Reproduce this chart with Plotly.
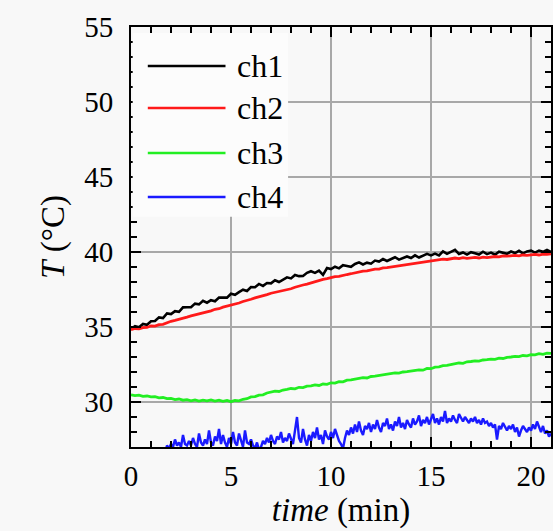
import numpy as np
import plotly.graph_objects as go

# sampling grids (minutes)
time_a = np.round(np.arange(0, 21.0001, 0.2), 2)
time_b = np.round(np.arange(0, 21.0001, 0.1), 2)

series_names = ["ch1", "ch2", "ch3", "ch4"]
series_colors = ["#000000", "#ff1a1a", "#22ee22", "#1a1aff"]

ch1 = [34.85, 35.05, 34.98, 35.20, 35.15, 35.38, 35.40, 35.64, 35.60, 35.90,
       35.86, 36.06, 36.01, 36.31, 36.32, 36.32, 36.56, 36.51, 36.75, 36.62,
       36.79, 36.72, 36.97, 36.97, 36.96, 37.22, 37.15, 37.33, 37.49, 37.40,
       37.66, 37.65, 37.87, 37.74, 37.93, 37.91, 38.12, 38.00, 38.18, 38.31,
       38.24, 38.47, 38.39, 38.40, 38.61, 38.72, 38.61, 38.76, 38.48, 38.93,
       38.86, 39.02, 38.91, 39.12, 39.07, 39.01, 39.20, 39.31, 39.17, 39.29,
       39.22, 39.43, 39.36, 39.53, 39.40, 39.55, 39.65, 39.49, 39.61, 39.70,
       39.60, 39.78, 39.63, 39.78, 39.88, 39.77, 39.89, 39.77, 40.04, 39.88,
       40.03, 40.14, 39.87, 39.97, 39.83, 39.99, 39.92, 39.83, 40.02, 39.86,
       39.96, 39.82, 40.02, 39.96, 39.88, 40.03, 39.93, 40.08, 39.91, 40.04,
       40.09, 39.96, 40.09, 40.01, 40.14, 40.01]

ch2 = [34.82, 34.90, 34.88, 34.96, 34.97, 35.08, 35.06, 35.16, 35.18, 35.30,
       35.38, 35.44, 35.50, 35.58, 35.66, 35.74, 35.80, 35.86, 35.94, 36.02,
       36.08, 36.18, 36.22, 36.32, 36.38, 36.45, 36.54, 36.60, 36.70, 36.76,
       36.85, 36.94, 37.00, 37.10, 37.16, 37.25, 37.30, 37.38, 37.42, 37.50,
       37.55, 37.65, 37.70, 37.80, 37.86, 37.95, 38.04, 38.08, 38.18, 38.22,
       38.30, 38.36, 38.38, 38.46, 38.50, 38.55, 38.62, 38.64, 38.72, 38.74,
       38.80, 38.86, 38.86, 38.94, 38.96, 39.00, 39.06, 39.08, 39.14, 39.16,
       39.20, 39.26, 39.28, 39.34, 39.36, 39.40, 39.44, 39.46, 39.52, 39.50,
       39.56, 39.60, 39.56, 39.62, 39.58, 39.60, 39.64, 39.60, 39.66, 39.62,
       39.66, 39.70, 39.67, 39.74, 39.72, 39.76, 39.78, 39.74, 39.80, 39.78,
       39.82, 39.84, 39.80, 39.86, 39.84, 39.88]

ch3 = [30.48, 30.42, 30.46, 30.38, 30.40, 30.34, 30.36, 30.28, 30.30, 30.22,
       30.24, 30.16, 30.20, 30.12, 30.16, 30.08, 30.14, 30.06, 30.12, 30.08,
       30.14, 30.06, 30.12, 30.04, 30.10, 30.02, 30.10, 30.08, 30.18, 30.22,
       30.34, 30.36, 30.46, 30.48, 30.60, 30.64, 30.72, 30.70, 30.80, 30.84,
       30.90, 30.88, 30.98, 30.96, 31.06, 31.08, 31.14, 31.10, 31.20, 31.18,
       31.28, 31.26, 31.36, 31.34, 31.46, 31.48, 31.52, 31.54, 31.62, 31.60,
       31.70, 31.72, 31.76, 31.80, 31.86, 31.88, 31.94, 31.92, 32.00, 32.02,
       32.06, 32.08, 32.14, 32.12, 32.24, 32.22, 32.32, 32.34, 32.42, 32.44,
       32.50, 32.52, 32.60, 32.58, 32.68, 32.70, 32.74, 32.72, 32.80, 32.82,
       32.86, 32.84, 32.92, 32.90, 32.98, 33.00, 33.04, 33.02, 33.10, 33.08,
       33.16, 33.14, 33.22, 33.18, 33.26, 33.24]

ch4 = [26.6, 26.4, 26.7, 26.5, 26.8, 26.3, 26.6, 26.7, 26.4, 26.6,
       26.5, 26.8, 26.6, 26.9, 26.5, 26.7, 26.8, 26.6, 27.1, 26.9,
       27.2, 27.0, 27.5, 27.1, 27.3, 27.0, 27.8, 27.2, 27.1, 27.4,
       27.1, 27.6, 27.2, 27.0, 27.9, 27.3, 27.1, 27.5, 27.2, 28.1,
       27.3, 27.1, 27.7, 27.4, 28.2, 27.2, 27.8, 27.3, 27.0, 27.6,
       27.2, 28.0, 27.3, 27.1, 27.9, 27.4, 27.0, 28.1, 27.3, 27.2,
       27.5, 27.1, 26.9, 27.3, 26.8, 27.0, 27.4, 27.2, 27.6, 27.3,
       27.8, 27.4, 27.2, 27.7, 27.5, 28.0, 27.3, 27.6, 27.4, 27.9,
       27.5, 27.2, 28.1, 29.0, 27.6, 27.3, 28.2, 27.5, 27.1, 27.8,
       27.4, 28.0, 27.6, 28.3, 27.5, 27.8, 27.2, 28.1, 27.7, 27.5,
       28.0, 27.6, 28.2, 27.8, 27.4, 27.2, 26.9, 27.6, 28.1, 27.8,
       28.3, 27.9, 28.5, 28.0, 28.7, 28.1, 27.8, 28.4, 28.2, 28.6,
       28.0, 28.5, 28.2, 28.8, 28.3, 28.0, 28.6, 28.4, 28.9, 28.2,
       28.5, 28.1, 28.7, 28.4, 29.0, 28.3, 28.6, 28.2, 28.8, 28.5,
       28.3, 28.9, 28.5, 28.7, 29.1, 28.4, 28.8, 28.6, 29.0, 28.5,
       28.8, 29.2, 28.6, 28.9, 28.5, 29.0, 28.7, 29.4, 28.6, 28.9,
       28.7, 29.1, 28.8, 28.6, 29.2, 28.9, 28.7, 29.0, 28.8, 28.6,
       28.9, 28.7, 29.0, 28.6, 28.8, 28.5, 28.9, 28.6, 28.7, 28.4,
       28.6, 28.3, 28.5, 27.5, 28.4, 28.2, 28.6, 28.3, 28.1, 28.4,
       28.2, 28.5, 28.0, 28.3, 27.7, 28.1, 28.4, 28.2, 28.0, 28.3,
       28.1, 28.5, 28.2, 28.7, 28.3, 28.0, 28.4, 27.9, 28.1, 27.7, 27.9]

x_ticks = [0, 5, 10, 15, 20]
y_ticks = [30, 35, 40, 45, 50, 55]

FONT = "Liberation Serif, Times New Roman, serif"
BG = "#f8f8f8"

fig = go.Figure()
data = [(time_a, ch1), (time_a, ch2), (time_a, ch3), (time_b, ch4)]
widths = [2.6, 2.8, 2.8, 2.4]
for (t, v), name, col, w in zip(data, series_names, series_colors, widths):
    fig.add_trace(go.Scatter(x=t, y=v, mode="lines", name=name,
                             line=dict(color=col, width=w), showlegend=False))

# manual legend (box, sample lines, labels)
fig.add_shape(type="rect", xref="paper", yref="paper", x0=0.004, x1=0.374,
              y0=0.548, y1=0.986, fillcolor="#fcfcfc", line_width=0, layer="above")
row_y = [0.907, 0.807, 0.700, 0.595]
for ry, name, col in zip(row_y, series_names, series_colors):
    fig.add_shape(type="line", xref="paper", yref="paper", x0=0.040, x1=0.225,
                  y0=ry, y1=ry, line=dict(color=col, width=2.5), layer="above")
    fig.add_annotation(xref="paper", yref="paper", x=0.247, y=ry, text=name,
                       showarrow=False, xanchor="left", yanchor="middle",
                       font=dict(family=FONT, size=32, color="black"))

axis_common = dict(
    showline=True, linecolor="black", linewidth=2, mirror="ticks",
    ticks="inside", ticklen=10, tickwidth=2, tickcolor="black",
    showgrid=True, gridcolor="#a8a8a8", gridwidth=1.5, zeroline=False,
    tickfont=dict(family=FONT, size=29, color="black"),
)

fig.update_xaxes(range=[0, 21], tickvals=x_ticks,
                 minor=dict(dtick=1, ticks="inside", ticklen=6, tickwidth=2,
                            tickcolor="black", showgrid=False),
                 title=dict(text="<i>time</i> (min)", standoff=2,
                            font=dict(family=FONT, size=33, color="black")),
                 ticklabelstandoff=2,
                 **axis_common)
fig.update_yaxes(range=[27, 55], tickvals=y_ticks,
                 minor=dict(dtick=1, ticks="inside", ticklen=6, tickwidth=2,
                            tickcolor="black", showgrid=False),
                 title=dict(text="<i>T</i> (°C)", standoff=10,
                            font=dict(family=FONT, size=33, color="black")),
                 ticklabelstandoff=10,
                 **axis_common)

fig.update_layout(
    width=553, height=531,
    margin=dict(l=131, r=0, t=27, b=84),
    paper_bgcolor=BG, plot_bgcolor=BG,
    showlegend=False,
)

fig.write_html("out.html", config={"displayModeBar": False},
               post_script="document.body.style.margin='0';document.body.style.background='%s';" % BG)
